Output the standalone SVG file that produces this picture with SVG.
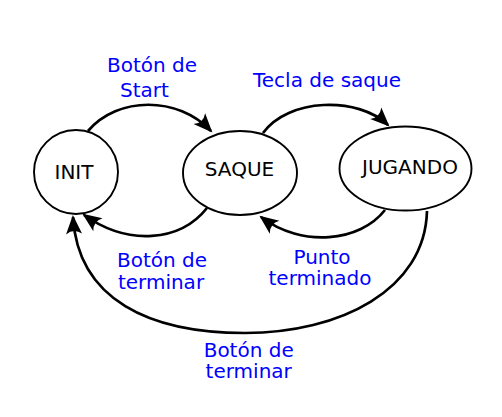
<svg xmlns="http://www.w3.org/2000/svg" width="502" height="417" viewBox="0 0 502 417">
<style>
.node{fill:#fff;stroke:#000;stroke-width:1.9}
.nt{font-family:"DejaVu Sans",sans-serif;font-size:20px;fill:#000;text-anchor:middle}
.lb{font-family:"DejaVu Sans",sans-serif;font-size:20px;fill:#0000ff;text-anchor:middle}
.edge{fill:none;stroke:#000;stroke-width:2.7;marker-end:url(#arr)}
</style>
<defs>
<marker id="arr" markerUnits="userSpaceOnUse" markerWidth="24" markerHeight="20" viewBox="-20 -10 24 20" refX="-2" refY="0" orient="auto" overflow="visible">
<path d="M0,0 L-19,-8 Q-13,0 -19,8 Z" fill="#000"/>
</marker>
</defs>
<rect width="502" height="417" fill="#fff"/>
<g id="connectors">
<path class="edge" d="M88,131 C118,96 178,96 211,131"/>
<path class="edge" d="M263,133 C288,98 358,96 388,125"/>
<path class="edge" d="M385,210 C360,242 302,248 261,217"/>
<path class="edge" d="M207,208 C180,242 128,246 84,215"/>
<path class="edge" d="M427,211 C425,290 340,333 245,333 C150,333 78,300 73,217"/>
</g>
<g id="INIT">
<circle class="node" cx="76" cy="172" r="42"/>
<text class="nt" x="74" y="179">INIT</text>
</g>
<g id="SAQUE">
<ellipse class="node" cx="240" cy="173" rx="57" ry="42"/>
<text class="nt" x="239.5" y="176">SAQUE</text>
</g>
<g id="JUGANDO">
<ellipse class="node" cx="405.5" cy="168.5" rx="66" ry="42"/>
<text class="nt" x="410" y="173.5">JUGANDO</text>
</g>
<g id="labels">
<text class="lb" x="152" y="72">Botón de</text>
<text class="lb" x="144.5" y="97">Start</text>
<text class="lb" x="327" y="87">Tecla de saque</text>
<text class="lb" x="162" y="267">Botón de</text>
<text class="lb" x="161" y="289">terminar</text>
<text class="lb" x="322" y="264">Punto</text>
<text class="lb" x="320" y="285">terminado</text>
<text class="lb" x="248.7" y="357">Botón de</text>
<text class="lb" x="248.7" y="378">terminar</text>
</g>
</svg>
